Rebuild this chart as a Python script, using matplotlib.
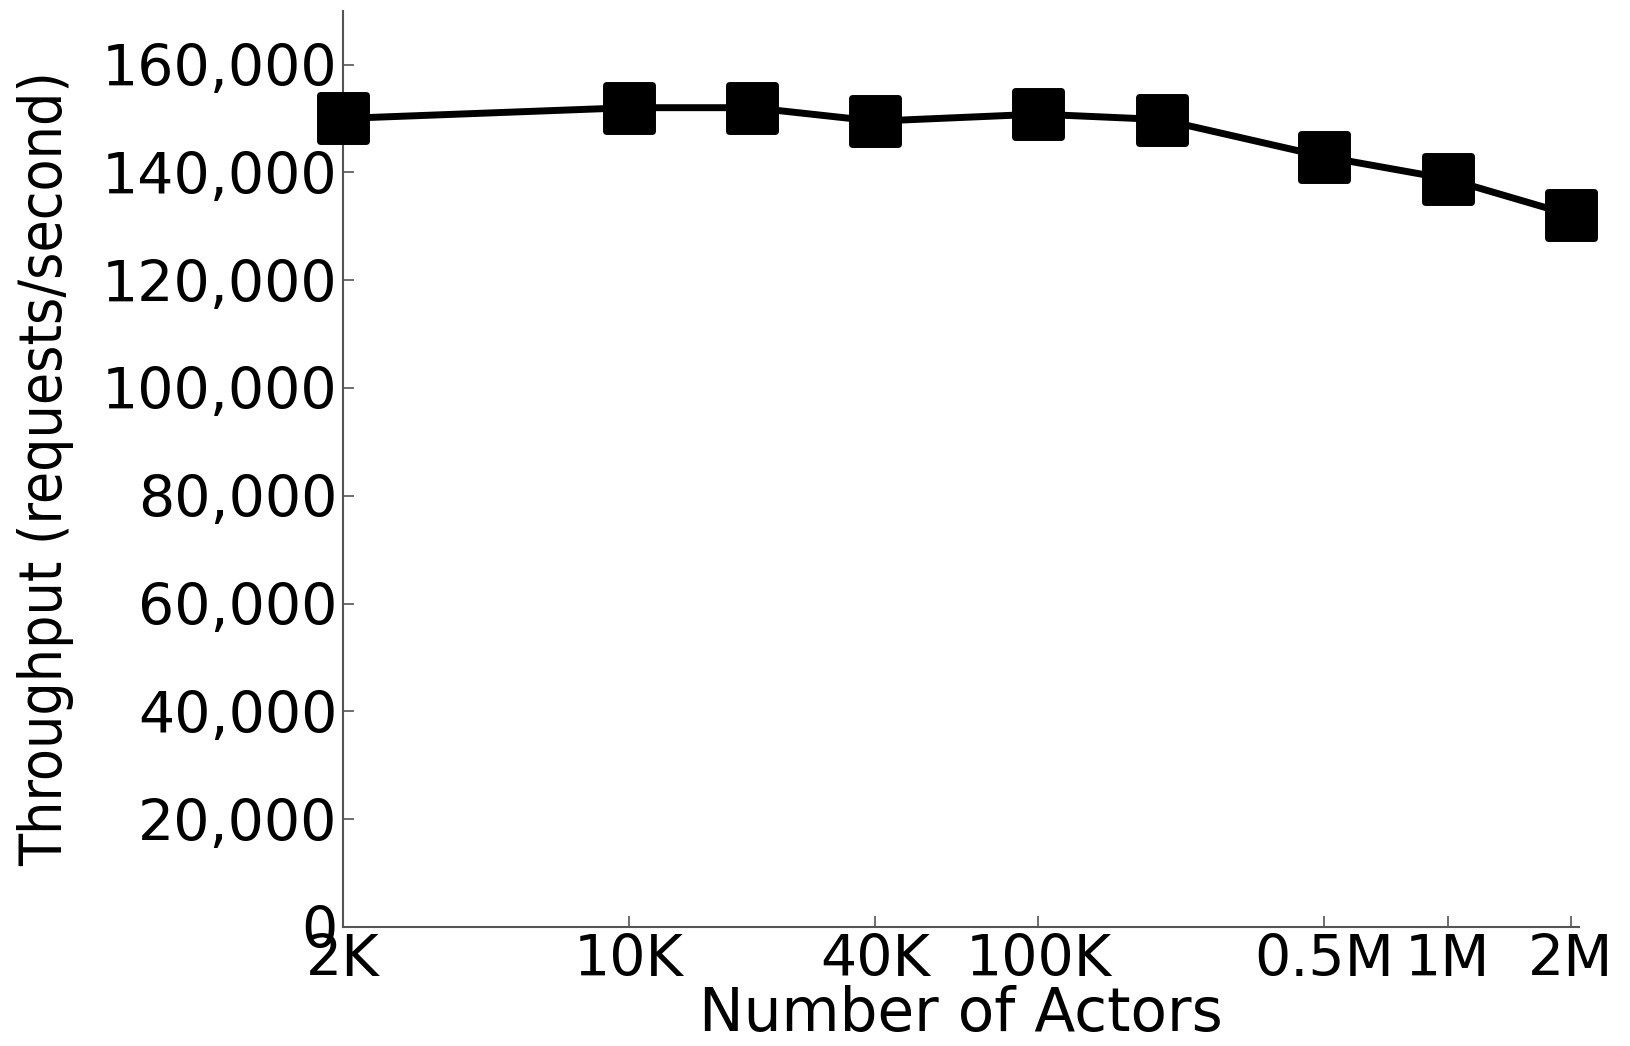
import matplotlib
matplotlib.use("Agg")
import matplotlib.pyplot as plt
from matplotlib.markers import MarkerStyle
from matplotlib.ticker import FixedLocator, FixedFormatter, NullLocator

# data
actors = [2e3, 1e4, 2e4, 4e4, 1e5, 2e5, 5e5, 1e6, 2e6]
throughput = [150000, 152000, 152000, 149500, 150800, 149800, 142900, 138800, 132100]

xtick_pos = [2e3, 1e4, 4e4, 1e5, 5e5, 1e6, 2e6]
xtick_lab = ["2K", "10K", "40K", "100K", "0.5M", "1M", "2M"]
ytick_pos = list(range(0, 160001, 20000))
ytick_lab = ["{:,}".format(v) for v in ytick_pos]

fig = plt.figure(figsize=(16.3, 10.46), dpi=100)
ax = fig.add_axes([0.2104, 0.1138, 0.7586, 0.876])

sq = MarkerStyle("s", joinstyle="round")
ax.plot(actors, throughput, color="black", linewidth=5, marker=sq,
        markersize=33, markeredgewidth=5, markerfacecolor="black",
        markeredgecolor="black", solid_joinstyle="round", clip_on=False,
        zorder=3)

ax.set_xscale("log")
ax.set_xlim(2e3, 2.1e6)
ax.set_ylim(0, 170000)

ax.xaxis.set_major_locator(FixedLocator(xtick_pos))
ax.xaxis.set_major_formatter(FixedFormatter(xtick_lab))
ax.xaxis.set_minor_locator(NullLocator())
ax.yaxis.set_major_locator(FixedLocator(ytick_pos))
ax.yaxis.set_major_formatter(FixedFormatter(ytick_lab))

for s in ["top", "right"]:
    ax.spines[s].set_visible(False)
for s in ["left", "bottom"]:
    ax.spines[s].set_color("#555555")
    ax.spines[s].set_linewidth(1.5)

ax.tick_params(direction="in", length=8, width=1.2, color="#555555",
               labelsize=41, pad=4)
for lab in ax.get_xticklabels() + ax.get_yticklabels():
    lab.set_fontfamily("DejaVu Sans")

ax.set_xlabel("Number of Actors", fontsize=43, family="DejaVu Sans", labelpad=-2)
ax.set_ylabel("Throughput (requests/second)", fontsize=42,
              family="DejaVu Sans", fontstretch="condensed", labelpad=20)

fig.savefig("out.png", dpi=100)
